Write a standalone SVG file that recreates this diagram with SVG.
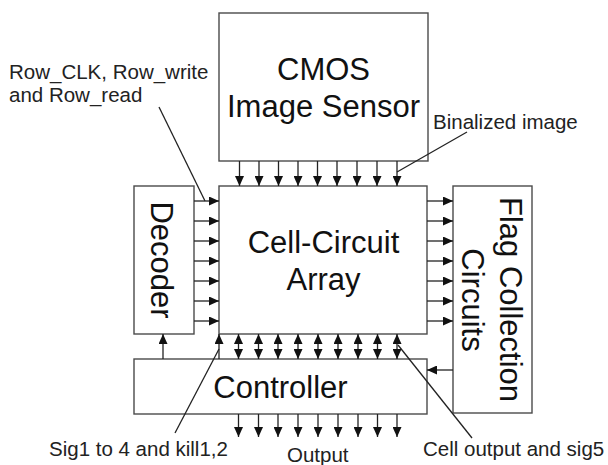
<svg xmlns="http://www.w3.org/2000/svg" width="608" height="465" viewBox="0 0 608 465">
<style>
.box{fill:#fff;stroke:#4a4a4a;stroke-width:1.4}
.big{font-family:"Liberation Sans",Arial,sans-serif;font-size:31px;fill:#111;text-anchor:middle}
.lbl{font-family:"Liberation Sans",Arial,sans-serif;font-size:20.5px;fill:#222}
.ln{stroke:#222;stroke-width:1.3;fill:none}
.ar{stroke:#222;stroke-width:1.3;fill:none;marker-end:url(#ah)}
.bi{stroke:#222;stroke-width:1.3;fill:none;marker-end:url(#ah);marker-start:url(#ah)}
</style>
<defs>
<marker id="ah" markerUnits="userSpaceOnUse" markerWidth="10" markerHeight="9" refX="10" refY="4.5" orient="auto-start-reverse">
<path d="M0,0 L10,4.5 L0,9 z" fill="#111"/>
</marker>
</defs>
<rect width="608" height="465" fill="#fff"/>
<g id="cmos">
<rect class="box" x="219" y="13" width="209" height="148"/>
<text class="big" x="323.5" y="80">CMOS</text>
<text class="big" x="323.5" y="117">Image Sensor</text>
</g>
<g id="cell">
<rect class="box" x="219" y="186" width="208" height="148"/>
<text class="big" x="323.5" y="253">Cell-Circuit</text>
<text class="big" x="323.5" y="290">Array</text>
</g>
<g id="decoder">
<rect class="box" x="134" y="186" width="60" height="148"/>
<text class="big" transform="translate(151,260) rotate(90)">Decoder</text>
</g>
<g id="flag">
<rect class="box" x="453" y="186" width="79" height="227"/>
<text class="big" transform="translate(500,299.5) rotate(90)">Flag Collection</text>
<text class="big" transform="translate(461.5,300) rotate(90)">Circuits</text>
</g>
<g id="controller">
<rect class="box" x="134" y="359" width="293" height="55"/>
<text class="big" x="280.5" y="398">Controller</text>
</g>
<g id="connectors">
<!-- CMOS to cell -->
<path class="ar" d="M239.5,161V186"/><path class="ar" d="M259,161V186"/><path class="ar" d="M278.5,161V186"/>
<path class="ar" d="M298,161V186"/><path class="ar" d="M317.5,161V186"/><path class="ar" d="M337,161V186"/>
<path class="ar" d="M357,161V186"/><path class="ar" d="M377,161V186"/><path class="ar" d="M397,161V186"/>
<!-- decoder to cell -->
<path class="ar" d="M194,201H219"/><path class="ar" d="M194,221H219"/><path class="ar" d="M194,241H219"/>
<path class="ar" d="M194,261H219"/><path class="ar" d="M194,281H219"/><path class="ar" d="M194,301H219"/>
<path class="ar" d="M194,321H219"/>
<!-- cell to flag -->
<path class="ar" d="M427,201H453"/><path class="ar" d="M427,221H453"/><path class="ar" d="M427,241H453"/>
<path class="ar" d="M427,261H453"/><path class="ar" d="M427,281H453"/><path class="ar" d="M427,301H453"/>
<path class="ar" d="M427,321H453"/>
<!-- controller to decoder / cell -->
<path class="ar" d="M163,359V334"/>
<path class="ar" d="M219,359V334"/>
<!-- bidirectional cell-controller -->
<path class="bi" d="M238.5,334V359"/><path class="bi" d="M258.5,334V359"/><path class="bi" d="M278,334V359"/>
<path class="bi" d="M298,334V359"/><path class="bi" d="M318,334V359"/><path class="bi" d="M338,334V359"/>
<path class="bi" d="M358,334V359"/><path class="bi" d="M377.5,334V359"/><path class="bi" d="M397,334V359"/>
<!-- flag to controller -->
<path class="ar" d="M453,370H427"/>
<!-- outputs -->
<path class="ar" d="M238.5,414V437"/><path class="ar" d="M258.5,414V437"/><path class="ar" d="M278,414V437"/>
<path class="ar" d="M298,414V437"/><path class="ar" d="M318,414V437"/><path class="ar" d="M338,414V437"/>
<path class="ar" d="M358,414V437"/><path class="ar" d="M377.5,414V437"/><path class="ar" d="M397,414V437"/>
<!-- leader lines -->
<path class="ln" d="M159,107L205,201"/>
<path class="ln" d="M467,132L397,172"/>
<path class="ln" d="M175,433L219,349"/>
<path class="ln" d="M472,438L398,345"/>
</g>
<g id="labels">
<text class="lbl" x="9" y="79">Row_CLK, Row_write</text>
<text class="lbl" x="9" y="102">and Row_read</text>
<text class="lbl" x="433" y="129">Binalized image</text>
<text class="lbl" x="49" y="456">Sig1 to 4 and kill1,2</text>
<text class="lbl" x="287" y="462">Output</text>
<text class="lbl" x="423" y="456">Cell output and sig5</text>
</g>
</svg>
